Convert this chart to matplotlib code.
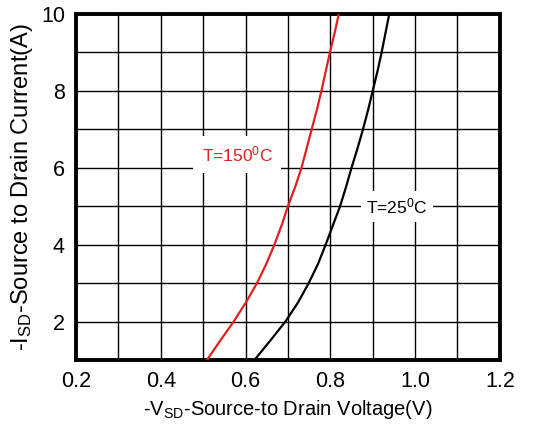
import matplotlib
matplotlib.use("Agg")
import matplotlib.pyplot as plt

plt.rcParams['font.family'] = ['Liberation Sans', 'DejaVu Sans']
plt.rcParams['mathtext.fontset'] = 'custom'
plt.rcParams['mathtext.rm'] = 'Liberation Sans'
plt.rcParams['mathtext.default'] = 'regular'

current = [1, 1.5, 2, 2.5, 3, 3.5, 4, 4.5, 5, 5.5, 6, 6.5, 7, 7.5, 8, 8.5, 9, 9.5, 10]
v_150 = [0.509, 0.540, 0.572, 0.601, 0.627, 0.649, 0.668, 0.685, 0.700, 0.717, 0.732,
         0.744, 0.756, 0.768, 0.779, 0.789, 0.799, 0.810, 0.820]
v_25 = [0.621, 0.658, 0.694, 0.724, 0.749, 0.771, 0.789, 0.806, 0.823, 0.837, 0.850,
        0.864, 0.877, 0.889, 0.900, 0.911, 0.921, 0.930, 0.939]
xticks = [0.2, 0.4, 0.6, 0.8, 1.0, 1.2]
xtick_labels = ['0.2', '0.4', '0.6', '0.8', '1.0', '1.2']
yticks = [2, 4, 6, 8, 10]

fig = plt.figure(figsize=(5.41, 4.32), dpi=100)
ax = fig.add_axes([0.1405, 0.1667, 0.7835, 0.8009])

ax.set_xlim(0.2, 1.2)
ax.set_ylim(1, 10)
ax.set_xticks(xticks)
ax.set_xticklabels(xtick_labels)
ax.set_xticks([0.3, 0.5, 0.7, 0.9, 1.1], minor=True)
ax.set_yticks(yticks)
ax.set_yticks([1, 3, 5, 7, 9], minor=True)
ax.grid(True, which='both', color='black', linewidth=1.0)
ax.tick_params(which='both', length=0, labelsize=15.5, pad=8)
for s in ax.spines.values():
    s.set_linewidth(2.8)

ax.plot(v_150, current, color='#e02020', linewidth=1.6, zorder=4)
ax.plot(v_25, current, color='black', linewidth=1.6, zorder=4)

ax.text(0.58, 6.35, 'T=150$^0$C', color='#e02020', fontsize=12.5, ha='center', va='center',
        bbox=dict(facecolor='white', edgecolor='none', pad=6), zorder=3)
ax.text(0.957, 5.0, 'T=25$^0$C', color='black', fontsize=12.5, ha='center', va='center',
        bbox=dict(facecolor='white', edgecolor='none', pad=4), zorder=3)

ax.set_xlabel('-V$_{SD}$-Source-to Drain Voltage(V)', fontsize=14.5, labelpad=4)
ax.set_ylabel('-I$_{SD}$-Source to Drain Current(A)', fontsize=17, labelpad=4)

fig.savefig('out.png', dpi=100)
